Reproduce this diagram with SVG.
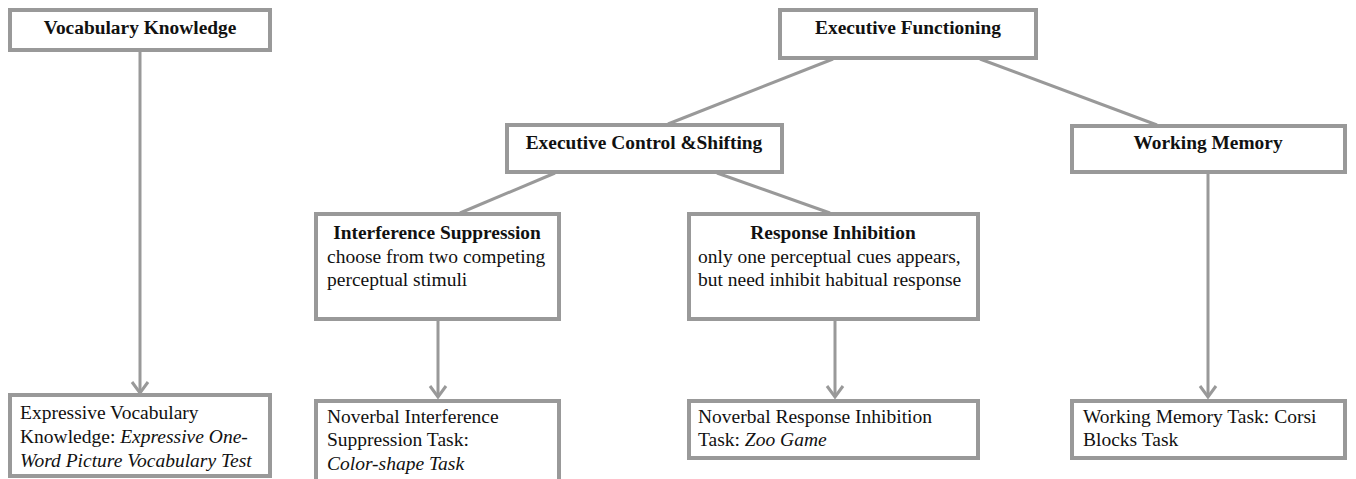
<svg xmlns="http://www.w3.org/2000/svg" width="1356" height="479" viewBox="0 0 1356 479">
<style>
.box{fill:#fff;stroke:#999;stroke-width:4}
.con{stroke:#999;stroke-width:3;fill:none}
text{font-family:'Liberation Serif','DejaVu Serif',serif;fill:#111}
.title{font-weight:bold;font-size:19.4px;text-anchor:middle}
.body{font-size:19.5px}
.it{font-style:italic}
</style>
<rect width="1356" height="479" fill="#fff"/>
<g id="connectors">
<line class="con" x1="140" y1="52" x2="140" y2="392"/>
<path class="con" d="M132,382 L140,393 L148,382"/>
<line class="con" x1="833" y1="59" x2="668" y2="124"/>
<line class="con" x1="980" y1="59" x2="1157" y2="125"/>
<line class="con" x1="555" y1="173" x2="460" y2="213"/>
<line class="con" x1="717" y1="173" x2="830" y2="213"/>
<line class="con" x1="438" y1="321" x2="438" y2="397"/>
<path class="con" d="M430,386 L438,397 L446,386"/>
<line class="con" x1="835" y1="321" x2="835" y2="397"/>
<path class="con" d="M827,386 L835,397 L843,386"/>
<line class="con" x1="1208" y1="174" x2="1208" y2="397"/>
<path class="con" d="M1200,386 L1208,397 L1216,386"/>
</g>
<g id="vocab">
<rect class="box" x="10" y="10" width="260" height="40"/>
<text class="title" x="140" y="34">Vocabulary Knowledge</text>
</g>
<g id="exec">
<rect class="box" x="780" y="10" width="256" height="48"/>
<text class="title" x="908" y="34">Executive Functioning</text>
</g>
<g id="control">
<rect class="box" x="507" y="125" width="275" height="47"/>
<text class="title" x="644" y="149">Executive Control &amp;Shifting</text>
</g>
<g id="wm">
<rect class="box" x="1072" y="126" width="273" height="46"/>
<text class="title" x="1208" y="149">Working Memory</text>
</g>
<g id="interference">
<rect class="box" x="316" y="214" width="243" height="105"/>
<text class="title" x="437" y="239">Interference Suppression</text>
<text class="body" x="327" y="263">choose from two competing</text>
<text class="body" x="327" y="286">perceptual stimuli</text>
</g>
<g id="response">
<rect class="box" x="689" y="214" width="289" height="105"/>
<text class="title" x="833" y="239">Response Inhibition</text>
<text class="body" x="698" y="263">only one perceptual cues appears,</text>
<text class="body" x="698" y="286">but need inhibit habitual response</text>
</g>
<g id="vocab-task">
<rect class="box" x="10" y="395" width="260" height="81"/>
<text class="body" x="20" y="419">Expressive Vocabulary</text>
<text class="body" x="20" y="443">Knowledge: <tspan class="it">Expressive One-</tspan></text>
<text class="body it" x="20" y="467">Word Picture Vocabulary Test</text>
</g>
<g id="interference-task">
<rect class="box" x="316" y="401" width="243" height="90"/>
<text class="body" x="327" y="423">Noverbal Interference</text>
<text class="body" x="327" y="446">Suppression Task:</text>
<text class="body it" x="327" y="470">Color-shape Task</text>
</g>
<g id="response-task">
<rect class="box" x="689" y="401" width="289" height="57"/>
<text class="body" x="698" y="423">Noverbal Response Inhibition</text>
<text class="body" x="698" y="446">Task: <tspan class="it">Zoo Game</tspan></text>
</g>
<g id="wm-task">
<rect class="box" x="1072" y="401" width="273" height="57"/>
<text class="body" x="1083" y="423">Working Memory Task: Corsi</text>
<text class="body" x="1083" y="446">Blocks Task</text>
</g>
</svg>
